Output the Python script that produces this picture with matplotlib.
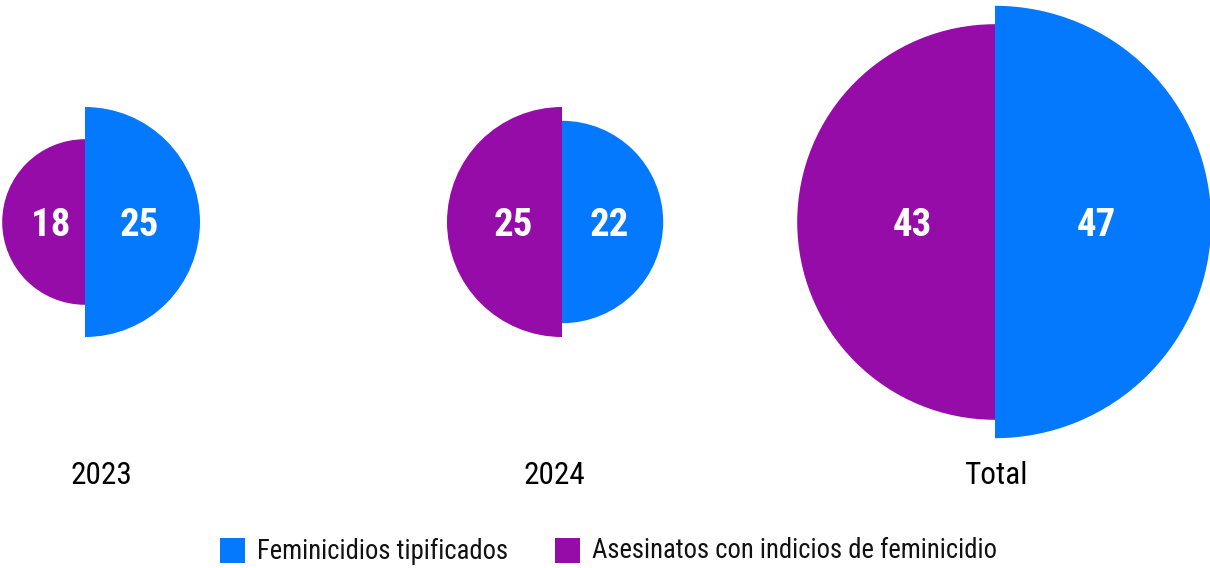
import matplotlib
matplotlib.use("Agg")
import matplotlib.pyplot as plt
from matplotlib.patches import Wedge, Rectangle

# data
groups = ["2023", "2024", "Total"]
tipificados = [25, 22, 47]
indicios = [18, 25, 43]
series_names = ["Feminicidios tipificados", "Asesinatos con indicios de feminicidio"]

BLUE = "#0479FE"
PURPLE = "#960CA8"

plt.rcParams["font.family"] = ["Roboto Condensed", "Liberation Sans Narrow",
                               "Liberation Sans", "DejaVu Sans"]

W, H = 1210, 568
fig = plt.figure(figsize=(W / 100, H / 100), dpi=100)
ax = fig.add_axes([0, 0, 1, 1])
ax.set_xlim(0, W)
ax.set_ylim(H, 0)
ax.axis("off")

px_per_unit = 4.6
centers_x = [85, 562, 995]
label_x = [101, 554, 996]
cy = 222

for cx, lx, name, b, p in zip(centers_x, label_x, groups, tipificados, indicios):
    rb, rp = b * px_per_unit, p * px_per_unit
    ax.add_patch(Wedge((cx, cy), rb, -90, 90, color=BLUE, lw=0))
    ax.add_patch(Wedge((cx, cy), rp, 90, 270, color=PURPLE, lw=0))
    ax.text(cx + 0.47 * rb, cy + 4, str(b), color="white", fontsize=28,
            fontweight="bold", ha="center", va="center")
    ax.text(cx - 0.42 * rp, cy + 4, str(p), color="white", fontsize=28,
            fontweight="bold", ha="center", va="center")
    ax.text(lx, 476, name, fontsize=22.5, ha="center", va="center",
            color="black")

# legend
for x0, col, txt in zip([220, 555], [BLUE, PURPLE], series_names):
    ax.add_patch(Rectangle((x0, 538), 25, 25, color=col, lw=0))
    ax.text(x0 + 37, 551, txt, fontsize=19.2, ha="left", va="center", color="#111111")

fig.savefig("out.png", dpi=100)
